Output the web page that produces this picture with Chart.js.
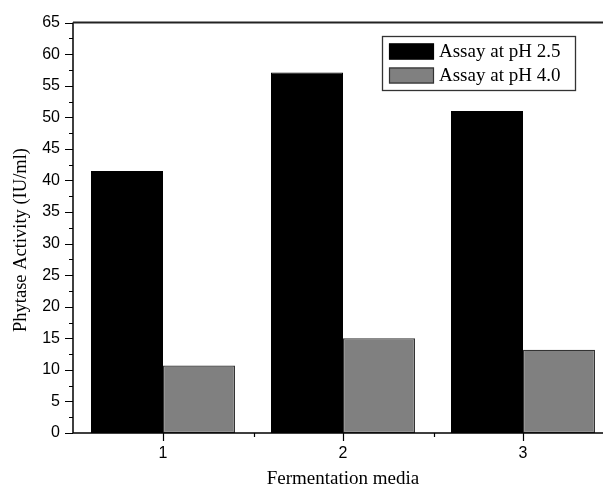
<!DOCTYPE html>
<html>
<head>
<meta charset="utf-8">
<script src="https://cdn.jsdelivr.net/npm/chart.js@4/dist/chart.umd.min.js"></script>
<style>
  html, body { margin: 0; padding: 0; background: #fff; overflow: hidden; }
  #wrap { width: 620px; height: 491px; }
</style>
</head>
<body>
<div id="wrap"><canvas id="chart"></canvas></div>
<script>
// Data
const media = ["1", "2", "3"];
const ph25 = [41.5, 57.1, 51.0];
const ph40 = [10.7, 15.0, 13.2];
const seriesLabels = ["Assay at pH 2.5", "Assay at pH 4.0"];

const serif = "'Liberation Serif', 'Times New Roman', serif";
const sans = "'Liberation Sans', Arial, sans-serif";

// axis frame, tick marks, y title and legend box
const decorations = {
    id: "decorations",
    afterDraw(chart) {
        const ctx = chart.ctx;
        const a = chart.chartArea;
        const x = chart.scales.x;
        const y = chart.scales.y;
        ctx.save();
        ctx.strokeStyle = "#000";
        ctx.lineWidth = 1.5;
        ctx.beginPath();
        ctx.moveTo(a.left, a.top);
        ctx.lineTo(a.left, a.bottom);
        ctx.lineTo(a.right, a.bottom);
        ctx.stroke();
        ctx.strokeStyle = "#222";
        ctx.lineWidth = 2;
        ctx.beginPath();
        ctx.moveTo(a.left, a.top);
        ctx.lineTo(a.right, a.top);
        ctx.stroke();

        ctx.strokeStyle = "#000";
        ctx.lineWidth = 1.2;
        ctx.beginPath();
        for (let v = 0; v <= 65; v += 2.5) {
            const py = Math.round(y.getPixelForValue(v)) + 0.5;
            const len = (v % 5 === 0) ? 8 : 4;
            ctx.moveTo(a.left - len, py);
            ctx.lineTo(a.left, py);
        }
        for (let i = 0; i < media.length; i++) {
            const px = Math.round(x.getPixelForValue(i)) + 0.5;
            ctx.moveTo(px, a.bottom);
            ctx.lineTo(px, a.bottom + 8);
            const half = (x.getPixelForValue(1) - x.getPixelForValue(0)) / 2;
            const mx = Math.round(px + half) + 0.5;
            ctx.moveTo(mx, a.bottom);
            ctx.lineTo(mx, a.bottom + 4);
        }
        ctx.stroke();

        // y title
        ctx.fillStyle = "#000";
        ctx.font = "18.5px " + serif;
        ctx.textAlign = "center";
        ctx.textBaseline = "middle";
        ctx.translate(21, 240);
        ctx.rotate(-Math.PI / 2);
        ctx.fillText("Phytase Activity (IU/ml)", 0, 0);
        ctx.restore();

        // legend
        ctx.save();
        ctx.fillStyle = "#fff";
        ctx.fillRect(382, 36, 194, 55);
        ctx.strokeStyle = "#333";
        ctx.lineWidth = 1.3;
        ctx.strokeRect(382.5, 36.5, 193, 54);
        ctx.font = "19px " + serif;
        ctx.textAlign = "left";
        ctx.textBaseline = "middle";
        chart.data.datasets.forEach((ds, i) => {
            const sy = 43.5 + i * 24;
            ctx.fillStyle = ds.backgroundColor;
            ctx.fillRect(389, sy, 45, 16);
            ctx.strokeStyle = ds.borderColor;
            ctx.lineWidth = 1.2;
            ctx.strokeRect(389.5, sy + 0.5, 44, 15);
            ctx.fillStyle = "#000";
            ctx.fillText(ds.label, 439, sy + 8.5);
        });
        ctx.restore();
    }
};

new Chart(document.getElementById("chart"), {
    type: "bar",
    data: {
        labels: media,
        datasets: [
            { label: seriesLabels[0], data: ph25, backgroundColor: "#000000", borderColor: "#000000", borderWidth: 1 },
            { label: seriesLabels[1], data: ph40, backgroundColor: "#808080", borderColor: "#333333", borderWidth: 1.3 }
        ]
    },
    options: {
        responsive: true,
        maintainAspectRatio: false,
        animation: false,
        layout: { padding: { left: 0, top: 21.5, right: 7, bottom: 0 } },
        datasets: { bar: { categoryPercentage: 0.8, barPercentage: 1.0, borderSkipped: false } },
        plugins: { legend: { display: false }, tooltip: { enabled: false } },
        scales: {
            x: {
                grid: { display: false, drawTicks: false },
                border: { display: false },
                ticks: { color: "#000", font: { family: sans, size: 16 }, padding: 11 },
                title: { display: true, text: "Fermentation media", color: "#000", font: { family: serif, size: 19 }, padding: { top: 0, bottom: 1 } },
                afterFit(scale) { scale.height = 58; }
            },
            y: {
                min: 0,
                max: 65,
                grid: { display: false, drawTicks: false },
                border: { display: false },
                ticks: { stepSize: 5, color: "#000", font: { family: sans, size: 16 }, padding: 13 },
                afterFit(scale) { scale.width = 73; }
            }
        }
    },
    plugins: [decorations]
});
</script>
</body>
</html>
